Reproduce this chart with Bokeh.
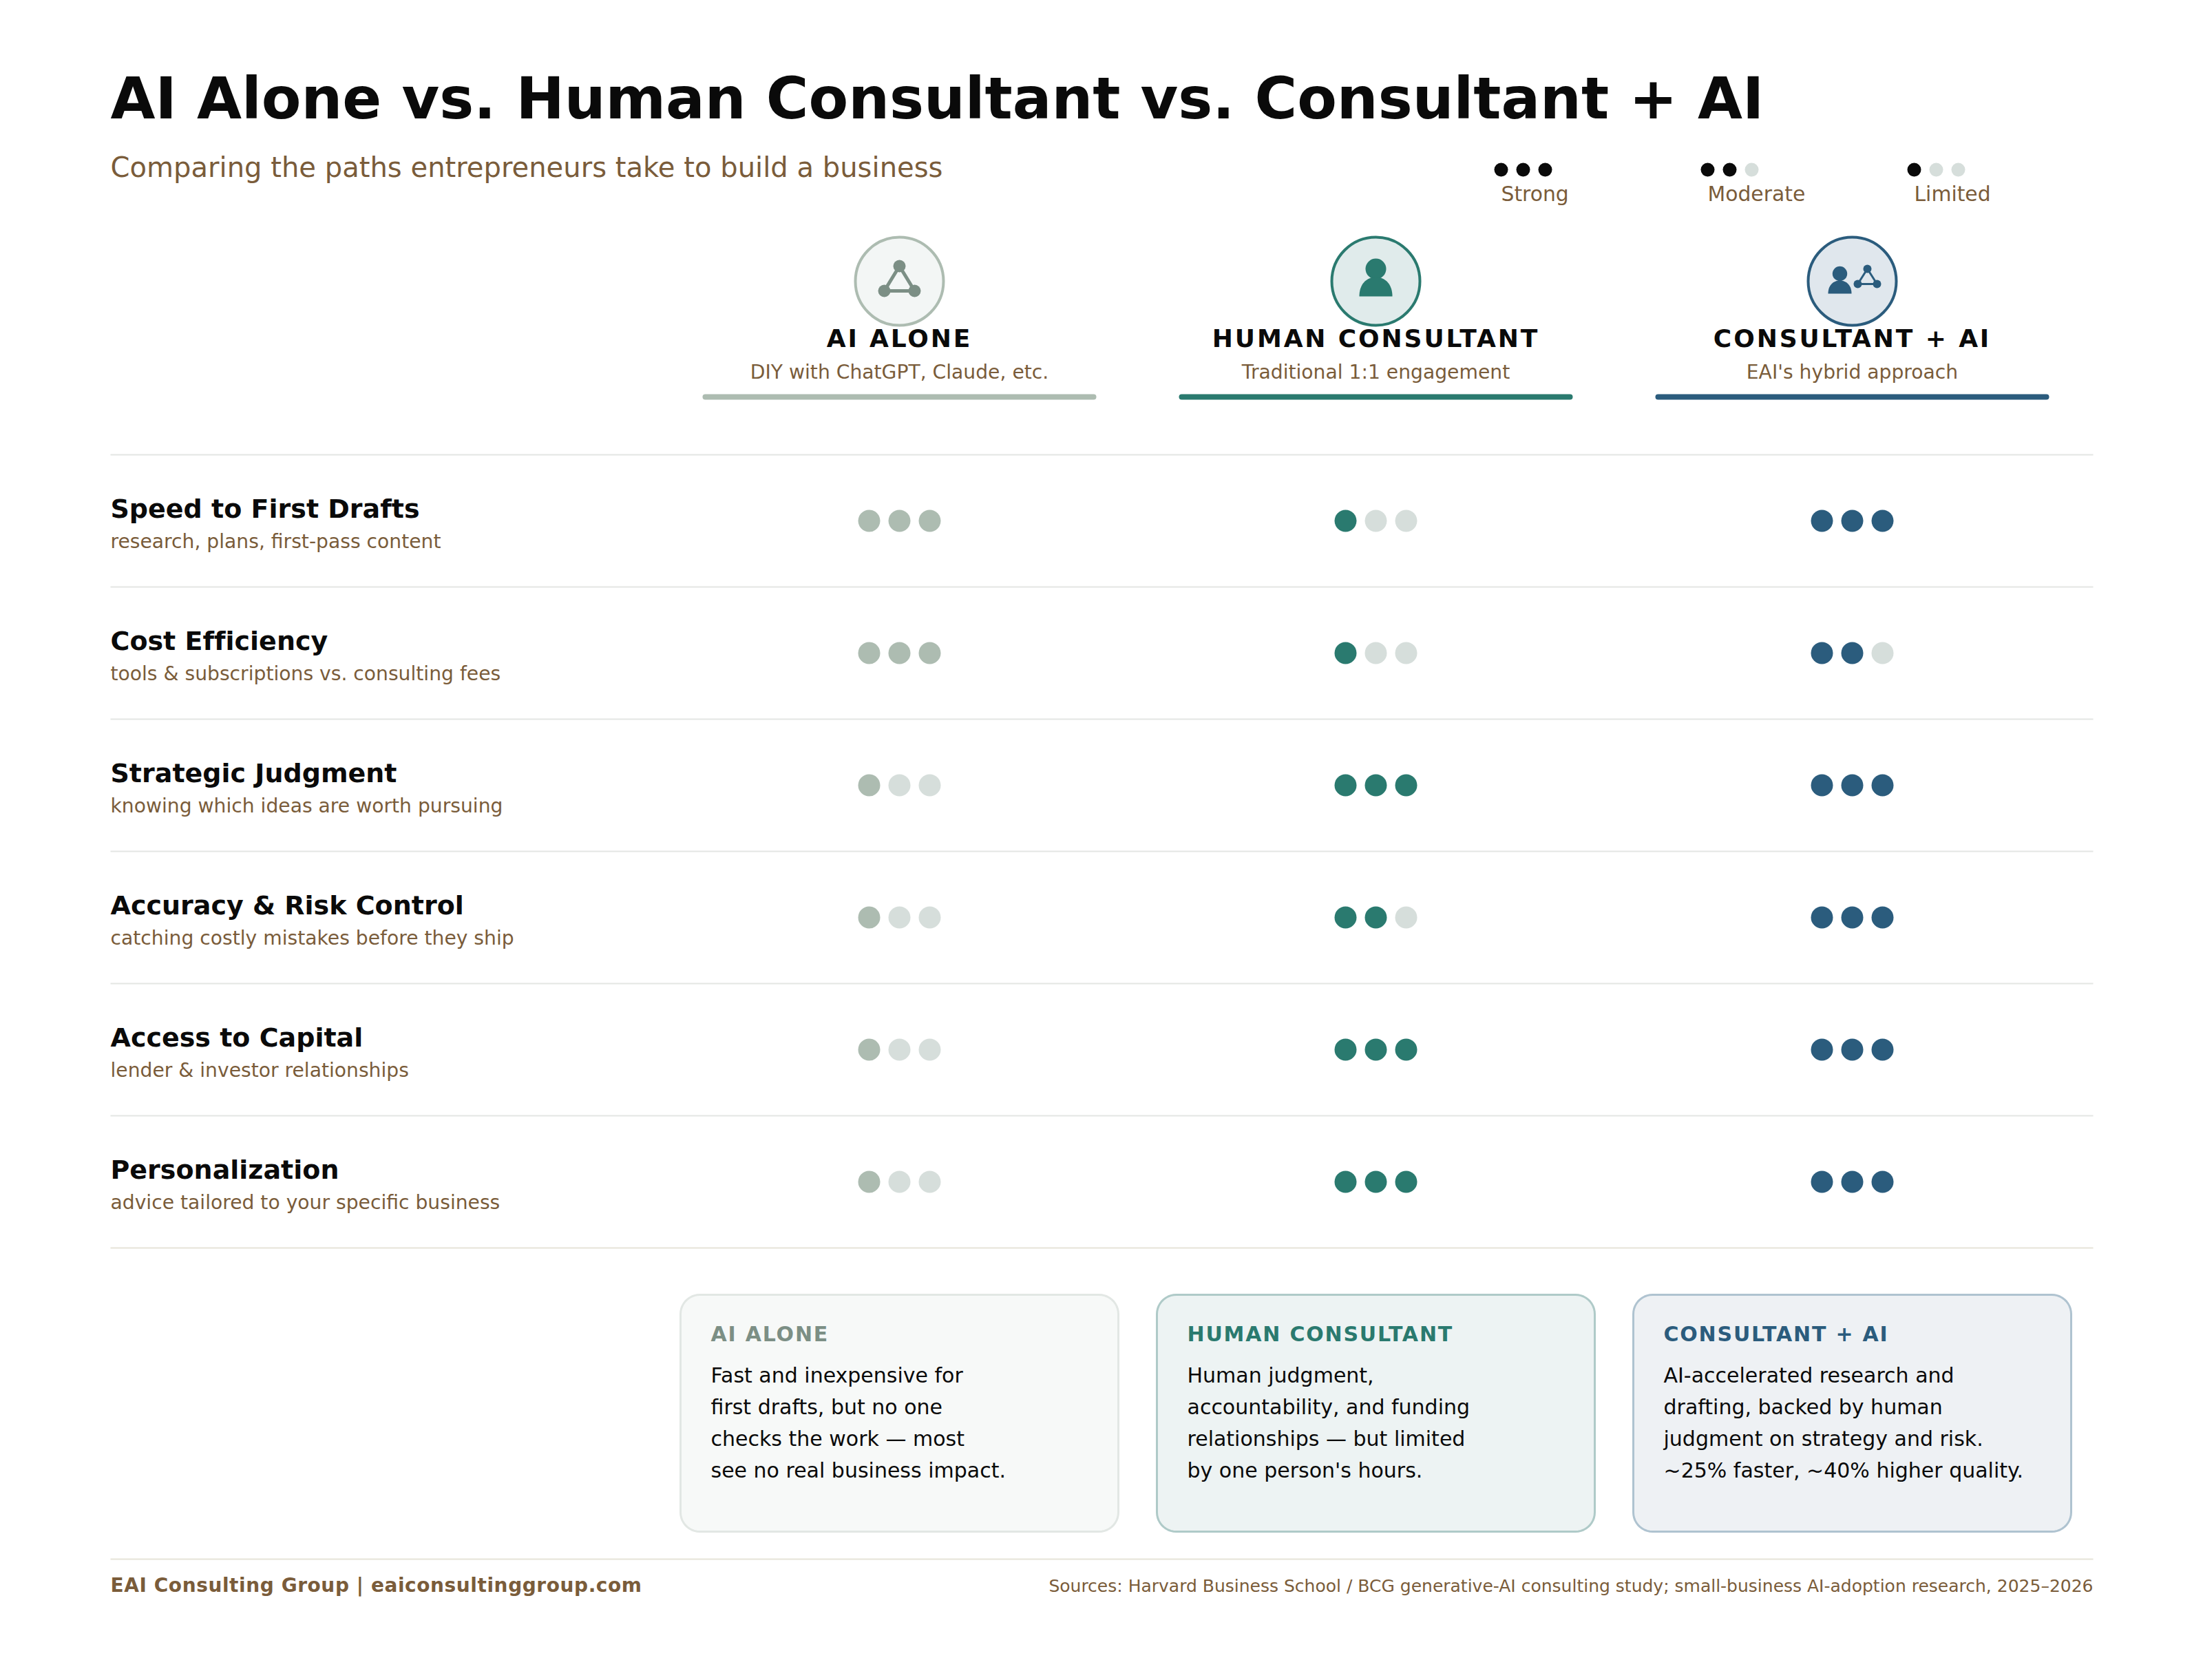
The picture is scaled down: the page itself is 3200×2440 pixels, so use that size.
import numpy as np
from bokeh.plotting import figure
from bokeh.document import Document
from bokeh.models import Range1d, CustomJS
from bokeh.core.properties import value
from bokeh.embed import file_html
from bokeh.resources import INLINE

# ---- data ----
TITLE = "AI Alone vs. Human Consultant vs. Consultant + AI"
SUBTITLE = "Comparing the paths entrepreneurs take to build a business"
approaches = ["AI ALONE", "HUMAN CONSULTANT", "CONSULTANT + AI"]
approach_notes = ["DIY with ChatGPT, Claude, etc.", "Traditional 1:1 engagement", "EAI's hybrid approach"]
criteria = ["Speed to First Drafts", "Cost Efficiency", "Strategic Judgment",
            "Accuracy & Risk Control", "Access to Capital", "Personalization"]
criteria_notes = ["research, plans, first-pass content", "tools & subscriptions vs. consulting fees",
                  "knowing which ideas are worth pursuing", "catching costly mistakes before they ship",
                  "lender & investor relationships", "advice tailored to your specific business"]
scores_ai = [3, 3, 1, 1, 1, 1]
scores_human = [1, 1, 3, 2, 3, 3]
scores_hybrid = [3, 2, 3, 3, 3, 3]
legend_labels = ["Strong", "Moderate", "Limited"]
legend_scores = [3, 2, 1]
card_text_ai = ["Fast and inexpensive for", "first drafts, but no one", "checks the work \u2014 most", "see no real business impact."]
card_text_human = ["Human judgment,", "accountability, and funding", "relationships \u2014 but limited", "by one person's hours."]
card_text_hybrid = ["AI-accelerated research and", "drafting, backed by human", "judgment on strategy and risk.", "~25% faster, ~40% higher quality."]
FOOT_L = "EAI Consulting Group | eaiconsultinggroup.com"
FOOT_R = "Sources: Harvard Business School / BCG generative-AI consulting study; small-business AI-adoption research, 2025\u20132026"

# ---- style ----
INK = "#0a0a0a"; BROWN = "#7a5c3a"; EMPTY = "#d6dedb"; RULE = "#e4e6e3"; BEIGE = "#e6e3d8"
accent = ["#adbcb1", "#2a7a6f", "#2b5c7d"]
icon_col = ["#7c8f85", "#2a7a6f", "#2b5c7d"]
title_col = ["#7c8f85", "#2a7a6f", "#2b5c7d"]
badge_fill = ["#f3f6f5", "#e0ebeb", "#e0e7ed"]
card_fill = ["#f7f9f8", "#edf3f3", "#eef1f4"]
card_line = ["#e2e7e4", "#afcac8", "#afc3d0"]
FONT = value("DejaVu Sans")

LEFT, RIGHT = 160, 3040
COLX = [1306, 1998, 2690]
ROW0, ROWH = 660, 192
BASE_FIX = 0.33
HEAD_TRACK = 2.88

p = figure(width=3184, height=2424, output_backend="svg", toolbar_location=None,
           x_range=Range1d(0, 3184), y_range=Range1d(2424, 0), min_border=0)
p.axis.visible = False
p.xgrid.visible = False
p.ygrid.visible = False
p.outline_line_color = None
p.background_fill_color = "white"
p.border_fill_color = "white"


def txt(x, y, s, size, color=INK, bold=False, align="left"):
    p.text([x], [y - BASE_FIX * size - 0.75], text=[s], text_font=FONT, text_font_size=f"{size}px", text_color=color,
           text_font_style="bold" if bold else "normal", text_align=align, text_baseline="alphabetic")


def dots(cx, cy, score, r, gap, color):
    xs = [cx + gap * i for i in (-1, 0, 1)]
    cols = [color if i < score else EMPTY for i in range(3)]
    p.circle(xs, [cy] * 3, radius=r, fill_color=cols, line_color=None)


def round_box(x0, y0, x1, y1, r, fill, line):
    t = np.linspace(0, np.pi / 2, 12)
    xs = np.concatenate([x1 - r + r * np.sin(t), x1 - r + r * np.cos(t), x0 + r - r * np.sin(t), x0 + r - r * np.cos(t)])
    ys = np.concatenate([y0 + r - r * np.cos(t), y1 - r + r * np.sin(t), y1 - r + r * np.cos(t), y0 + r - r * np.sin(t)])
    p.patch(xs, ys, fill_color=fill, line_color=line, line_width=3)


def person(cx, head_y, head_r, half_w, body_top, base):
    p.circle([cx], [head_y], radius=head_r, fill_color=col, line_color=None)
    h = base - body_top
    t = np.linspace(0, 1, 30)
    bx = 3 * (1 - t) ** 2 * t * (-1) + 3 * (1 - t) * t ** 2 * (-0.55) - (1 - t) ** 3
    by = (1 - t) ** 3 + 3 * (1 - t) ** 2 * t * 0.35
    xs = np.concatenate([bx, -bx[::-1]]) * half_w + cx
    ys = base - h + np.concatenate([by, by[::-1]]) * h
    p.patch(xs, ys, fill_color=col, line_color=None)


def network(cx, cy, dx, dy, r, lw):
    xs = [cx, cx + dx, cx - dx, cx]
    ys = [cy - dy, cy + dy, cy + dy, cy - dy]
    p.line(xs, ys, line_color=col, line_width=lw, line_join="round")
    p.circle(xs[:3], ys[:3], radius=r, fill_color=col, line_color=None)


# heading
txt(LEFT, 170.75, TITLE, 84, INK, True)
txt(LEFT, 256, SUBTITLE, 40.1, BROWN)

# legend
for k, (lab, sc) in enumerate(zip(legend_labels, legend_scores)):
    lx = 2212 + 300 * k
    dots(lx, 246, sc, 10, 32, INK)
    txt(lx - 32, 292, lab, 29.8, BROWN)

# column headers
for k, cx in enumerate(COLX):
    col = icon_col[k]
    p.circle([cx], [408], radius=64, fill_color=badge_fill[k], line_color=accent[k], line_width=4)
    if k == 0:
        network(cx, 404, 22, 18, 9, 5)
    elif k == 1:
        person(cx, 390, 15, 24, 402, 430)
    else:
        person(cx - 18, 397, 10.7, 17, 407, 426)
        network(cx + 22, 401, 14, 11, 6, 3)
    # tracking is added after layout, so the anchor moves back by half of it
    txt(cx - HEAD_TRACK * len(approaches[k]) / 2, 504, approaches[k], 36, INK, True, "center")
    txt(cx, 550, approach_notes[k], 28.2, BROWN, align="center")
    p.line([cx - 282, cx + 282], [576, 576], line_color=accent[k], line_width=8, line_cap="round")

# rows
p.segment([LEFT], [ROW0], [RIGHT], [ROW0], line_color=RULE, line_width=2)
all_scores = [scores_ai, scores_human, scores_hybrid]
for i, (name, note) in enumerate(zip(criteria, criteria_notes)):
    top = ROW0 + i * ROWH
    bot = top + ROWH
    p.segment([LEFT], [bot], [RIGHT], [bot], line_color=BEIGE if i == 5 else RULE, line_width=2)
    txt(LEFT, top + 92, name, 38, INK, True)
    txt(LEFT, top + 136, note, 28.2, BROWN)
    for k, cx in enumerate(COLX):
        dots(cx, top + 96, all_scores[k][i], 16, 44, accent[k])

# cards
cards = [card_text_ai, card_text_human, card_text_hybrid]
for k, cx in enumerate(COLX):
    round_box(cx - 318, 1880, cx + 318, 2224, 28, card_fill[k], card_line[k])
    txt(cx - 274, 1948, approaches[k], 30, title_col[k], True)
    for j, line in enumerate(cards[k]):
        txt(cx - 274, 2008 + 46 * j, line, 30, INK)

# footer
p.segment([LEFT], [2264], [RIGHT], [2264], line_color=BEIGE, line_width=2)
txt(LEFT, 2312, FOOT_L, 28, BROWN, True)
txt(RIGHT, 2312, FOOT_R, 25, BROWN, align="right")

# letter-spacing of the tracked headings (Bokeh has no property for it)
TRACK = CustomJS(code="""
function walk(root, out) {
  root.querySelectorAll('*').forEach(el => {
    if (el.shadowRoot) walk(el.shadowRoot, out);
    if (el.tagName.toLowerCase() === 'text') out.push(el);
  });
  return out;
}
function apply() {
  for (const el of walk(document, [])) {
    const cs = getComputedStyle(el);
    const bold = parseInt(cs.fontWeight) >= 600 || cs.fontWeight === 'bold';
    const size = parseFloat(cs.fontSize);
    if (!bold) continue;
    if (size === 36) el.style.letterSpacing = '2.88px';
    else if (size === 30) el.style.letterSpacing = '1.8px';
    else if (size === 28) el.style.letterSpacing = '0.57px';
    else if (size === 38) el.style.fontVariantLigatures = 'none';
  }
}
let n = 0;
const h = setInterval(() => { apply(); if (++n > 20) clearInterval(h); }, 100);
""")

doc = Document()
doc.add_root(p)
doc.js_on_event("document_ready", TRACK)
open("out.html", "w").write(file_html(doc, INLINE))
